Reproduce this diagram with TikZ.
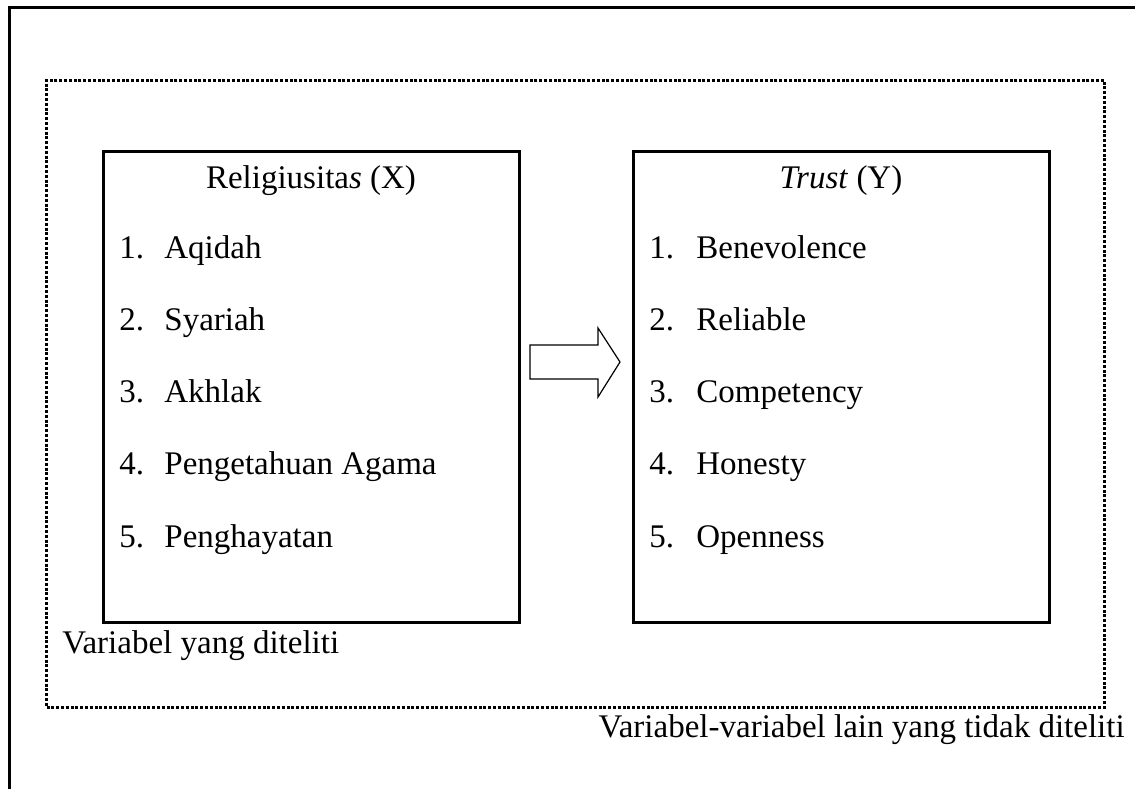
\documentclass[tikz,border=0pt]{standalone}
\usepackage{fontspec}
\setmainfont{Liberation Serif}
\usetikzlibrary{calc,positioning}
\begin{document}
\begin{tikzpicture}[x=0.5pt,y=-0.5pt]
  \tikzset{
    box/.style={draw, rectangle, line width=1.5pt, minimum width=208pt, minimum height=235.5pt, inner sep=0pt, outer sep=0pt},
    frame/.style={draw, rectangle, line width=1.5pt, dash pattern=on 1.5pt off 0.9pt, minimum width=528.75pt, minimum height=313.5pt, inner sep=0pt, outer sep=0pt},
    txt/.style={font=\fontsize{16.5}{19}\selectfont, inner sep=0pt, anchor=base west},
    blok/.style={draw, line width=0.6pt, fill=white}
  }
  \useasboundingbox (0,0) rectangle (1135,789);
  \draw [line width=1.5pt] (9,789)--(9,7)--(1135,7);
  \node [frame] (lain) at (575.25,393.5) {};
  \node [box] (relig) at (311,386.5) {};
  \node [box, right=57pt of relig] (trust) {};

  \node [txt, anchor=base] (reltitle) at ($(relig.north)+(0,37)$) {Religiusita\textit{s} (X)};
  \node [txt, anchor=base] (trtitle) at ($(trust.north)+(0,37)$) {\textit{Trust} (Y)};
  \foreach \i/\t in {1/Aqidah, 2/Syariah, 3/Akhlak, 4/Pengetahuan Agama, 5/Penghayatan} {
    \node [txt] (xn\i) at ($(relig.north west)+(16,{107+72.3*(\i-1)})$) {\i.};
    \node [txt] (xt\i) at ($(relig.north west)+(61,{107+72.3*(\i-1)})$) {\t};
  }
  \foreach \i/\t in {1/Benevolence, 2/Reliable, 3/Competency, 4/Honesty, 5/Openness} {
    \node [txt] (yn\i) at ($(trust.north west)+(16,{107+72.3*(\i-1)})$) {\i.};
    \node [txt] (yt\i) at ($(trust.north west)+(63,{107+72.3*(\i-1)})$) {\t};
  }

  %arrow X -> Y
  \coordinate (mid) at ($(relig.east)!0.5!(trust.west)$);
  \draw [blok] ($(mid)+(-46,-41.5)$) -- ($(mid)+(22,-41.5)$) -- ($(mid)+(22,-58.5)$)
    -- ($(mid)+(44,-24.5)$) -- ($(mid)+(22,10.5)$) -- ($(mid)+(22,-7.5)$)
    -- ($(mid)+(-46,-7.5)$) -- cycle;

  \node [txt] (diteliti) at ($(relig.south west)+(-41,31)$) {Variabel yang diteliti};
  \node [txt, anchor=base east] (tidak) at ($(lain.south east)+(21,30)$) {Variabel-variabel lain yang tidak diteliti};
\end{tikzpicture}
\end{document}
